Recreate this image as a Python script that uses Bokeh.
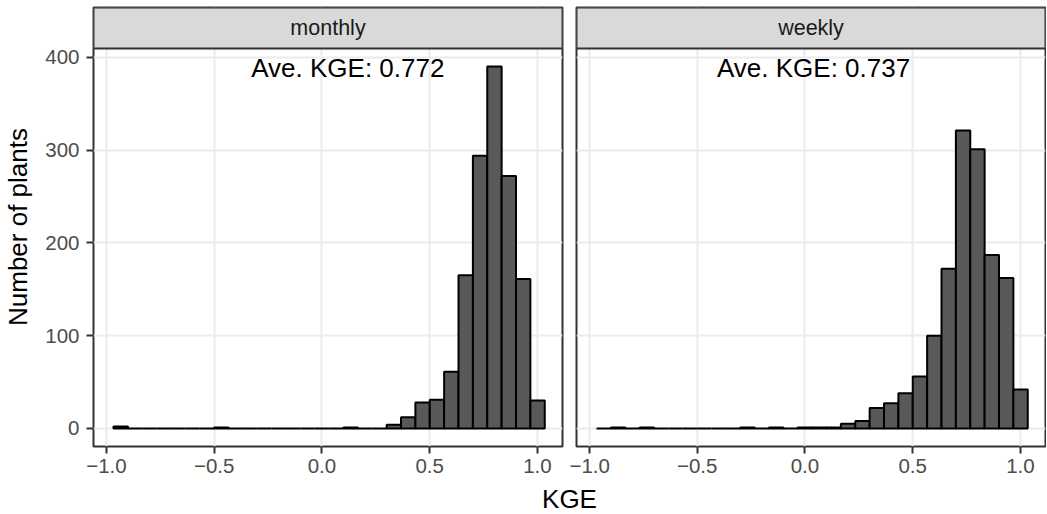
from bokeh.plotting import figure
from bokeh.layouts import column, row
from bokeh.models import Range1d, FixedTicker, Label, ColumnDataSource, BoxAnnotation
from bokeh.embed import file_html
from bokeh.resources import INLINE

# ---- data ----
panels = ["monthly", "weekly"]
bin_start = -0.967
bin_width = 0.0667
monthly_counts = [2, 0, 0, 0, 0, 0, 0, 1, 0, 0,
                  0, 0, 0, 0, 0, 0, 1, 0, 0, 4,
                  12, 28, 31, 61, 165, 294, 390, 272, 161, 30]
weekly_counts = [0, 1, 0, 1, 0, 0, 0, 0, 0, 0,
                 1, 0, 1, 0, 1, 1, 1, 5, 8, 22,
                 27, 38, 56, 100, 172, 321, 301, 187, 162, 42]
ave_kge = ["Ave. KGE: 0.772", "Ave. KGE: 0.737"]
ave_pos_x = [0.12, 0.04]
ave_pos_y = [389, 389]
x_ticks = [-1.0, -0.5, 0.0, 0.5, 1.0]
x_tick_labels = ["\u22121.0", "\u22120.5", "0.0", "0.5", "1.0"]
y_ticks = [0, 100, 200, 300, 400]
y_tick_labels = ["0", "100", "200", "300", "400"]

FONT = "Liberation Sans"
FRAME_W = 469
LEFT_B = 93
GAP = 14
TOP_B = 7
PANEL_H = 398          # plotting area below the strip
STRIP_H = 41
BOTTOM_B = 35
XR = (-1.06, -1.06 + FRAME_W / 215.5)
Y0, Y1 = -19.5, 409.5
PX_PER_UNIT = PANEL_H / (Y1 - Y0)
Y_TOP = Y1 + STRIP_H / PX_PER_UNIT


def panel(name, counts, ann, ax, ay, left_b, right_b, show_y):
    p = figure(width=left_b + FRAME_W + right_b,
               height=TOP_B + STRIP_H + PANEL_H + BOTTOM_B,
               x_range=Range1d(*XR), y_range=Range1d(Y0, Y_TOP),
               output_backend="svg", toolbar_location=None,
               min_border_left=left_b, min_border_right=right_b,
               min_border_top=TOP_B, min_border_bottom=BOTTOM_B)
    p.background_fill_color = "white"
    p.border_fill_color = "white"
    p.outline_line_color = "#333333"
    p.outline_line_width = 2
    lefts = [bin_start + i * bin_width for i in range(len(counts))]
    rights = [l + bin_width for l in lefts]
    src = ColumnDataSource(dict(left=lefts, right=rights, top=counts,
                                bottom=[0] * len(counts)))
    p.quad(left="left", right="right", top="top", bottom="bottom",
           source=src, fill_color="#595959", line_color="black",
           line_width=2)
    # facet strip
    p.add_layout(BoxAnnotation(bottom=Y1, fill_color="#D9D9D9", fill_alpha=1.0,
                               line_color="#333333", line_width=2, line_alpha=1.0))
    p.add_layout(Label(x=(XR[0] + XR[1]) / 2, y=(Y1 + Y_TOP) / 2, text=name,
                       text_align="center", text_baseline="middle",
                       text_font=FONT, text_font_size="21.5px",
                       text_color="#1A1A1A"))
    p.add_layout(Label(x=ax, y=ay, text=ann, text_align="center",
                       text_baseline="middle", text_font=FONT,
                       text_font_size="26px", text_color="black"))
    p.xaxis.ticker = FixedTicker(ticks=x_ticks)
    p.xaxis.major_label_overrides = {t: l for t, l in zip(x_ticks, x_tick_labels)}
    p.yaxis.ticker = FixedTicker(ticks=y_ticks)
    p.yaxis.major_label_overrides = {t: l for t, l in zip(y_ticks, y_tick_labels)}
    for a in p.axis:
        a.axis_line_color = None
        a.major_tick_line_color = "#333333"
        a.major_tick_line_width = 2
        a.major_tick_in = 0
        a.major_tick_out = 7
        a.minor_tick_line_color = None
        a.major_label_text_font = FONT
        a.major_label_text_font_size = "20.5px"
        a.major_label_text_color = "#4D4D4D"
    p.xaxis.major_label_standoff = 5
    p.yaxis.major_label_standoff = 7
    p.grid.grid_line_color = "#EBEBEB"
    p.grid.grid_line_width = 2
    p.grid.minor_grid_line_color = None
    if show_y:
        p.yaxis.axis_label = "Number of plants"
        p.yaxis.axis_label_text_font = FONT
        p.yaxis.axis_label_text_font_size = "26px"
        p.yaxis.axis_label_text_font_style = "normal"
        p.yaxis.axis_label_text_color = "black"
        p.yaxis.axis_label_standoff = 9
    else:
        p.yaxis.visible = False
    return p


p1 = panel(panels[0], monthly_counts, ave_kge[0], ave_pos_x[0], ave_pos_y[0],
           LEFT_B, GAP // 2, True)
p2 = panel(panels[1], weekly_counts, ave_kge[1], ave_pos_x[1], ave_pos_y[1],
           GAP // 2, 1, False)

total_w = LEFT_B + FRAME_W + GAP + FRAME_W + 1
kge_h = 33
kge = figure(width=total_w, height=kge_h, x_range=Range1d(0, total_w),
             y_range=Range1d(0, kge_h), output_backend="svg",
             toolbar_location=None, min_border=0)
kge.axis.visible = False
kge.grid.visible = False
kge.outline_line_color = None
kge.add_layout(Label(x=LEFT_B + (2 * FRAME_W + GAP) / 2, y=16, x_units="screen",
                     y_units="screen", text="KGE", text_align="center",
                     text_baseline="middle", text_font=FONT,
                     text_font_size="26px", text_color="black"))

layout = column(row(p1, p2), kge)
open("out.html", "w").write(file_html(layout, INLINE))
